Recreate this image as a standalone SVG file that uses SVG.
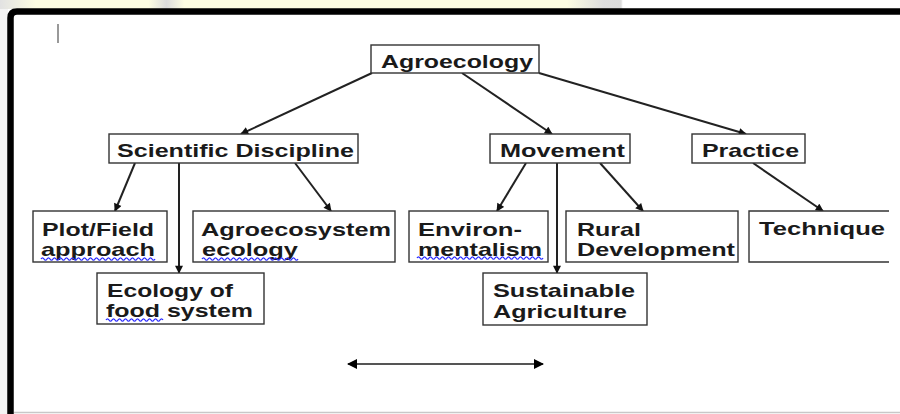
<svg xmlns="http://www.w3.org/2000/svg" width="900" height="414" viewBox="0 0 900 414">
<style>
.box{fill:#fff;stroke:#333;stroke-width:1.4}
.t{font-family:"Liberation Sans",Arial,sans-serif;font-weight:bold;font-size:18.5px;fill:#1a1a1a}
.c{stroke:#222;stroke-width:2;fill:none}
.sq{stroke:#2a2aff;stroke-width:1.3;fill:none}
</style>
<defs>
<marker id="ah" viewBox="0 0 10 10" refX="9" refY="5" markerWidth="9" markerHeight="8" markerUnits="userSpaceOnUse" orient="auto">
<path d="M0,0 L10,5 L0,10 z" fill="#111"/>
</marker>
<marker id="ah2" viewBox="0 0 10 10" refX="9" refY="5" markerWidth="12" markerHeight="10" markerUnits="userSpaceOnUse" orient="auto-start-reverse">
<path d="M0,0 L10,5 L0,10 z" fill="#000"/>
</marker>
<linearGradient id="strip" x1="0" y1="0" x2="1" y2="0">
<stop offset="0" stop-color="#e2e2e2"/>
<stop offset="0.04" stop-color="#fdfde2"/>
<stop offset="0.165" stop-color="#fdfde2"/>
<stop offset="0.185" stop-color="#dcdcdc"/>
<stop offset="0.205" stop-color="#fdfde2"/>
<stop offset="0.63" stop-color="#fdfde2"/>
<stop offset="0.67" stop-color="#dedede"/>
<stop offset="0.69" stop-color="#dcdcdc"/>
<stop offset="0.692" stop-color="#ffffff"/>
<stop offset="1" stop-color="#ffffff"/>
</linearGradient>
</defs>
<!-- background -->
<rect x="0" y="0" width="900" height="414" fill="#fff"/>
<rect x="0" y="0" width="900" height="9" fill="url(#strip)"/>
<rect x="0" y="9" width="8" height="405" fill="#f4f4f4"/>
<path d="M10.5,414 V18 Q10.5,11.5 17,11.5 H900" fill="none" stroke="#000" stroke-width="6.5"/>
<line x1="14" y1="412.5" x2="900" y2="412.5" stroke="#c8c8c8" stroke-width="1.5"/>
<line x1="58" y1="24" x2="58" y2="43" stroke="#555" stroke-width="1.2"/>

<g id="connectors">
<line class="c" x1="372" y1="73" x2="241" y2="134" marker-end="url(#ah)"/>
<line class="c" x1="462" y1="73" x2="552" y2="134" marker-end="url(#ah)"/>
<line class="c" x1="539" y1="73" x2="746" y2="134" marker-end="url(#ah)"/>
<line class="c" x1="135" y1="163" x2="115" y2="211" marker-end="url(#ah)"/>
<line class="c" x1="179" y1="163" x2="179" y2="273" marker-end="url(#ah)"/>
<line class="c" x1="295" y1="163" x2="331" y2="211" marker-end="url(#ah)"/>
<line class="c" x1="526" y1="163" x2="497" y2="211" marker-end="url(#ah)"/>
<line class="c" x1="557" y1="163" x2="557" y2="273" marker-end="url(#ah)"/>
<line class="c" x1="600" y1="163" x2="643" y2="211" marker-end="url(#ah)"/>
<line class="c" x1="753" y1="163" x2="823" y2="211" marker-end="url(#ah)"/>
<line x1="348" y1="364" x2="543" y2="364" stroke="#555" stroke-width="2" marker-start="url(#ah2)" marker-end="url(#ah2)"/>
</g>

<g id="agroecology">
<rect class="box" x="371" y="45" width="168" height="28"/>
<text class="t" x="381" y="68" textLength="152" lengthAdjust="spacingAndGlyphs">Agroecology</text>
</g>
<g id="scientific-discipline">
<rect class="box" x="109" y="134" width="249" height="29"/>
<text class="t" x="117" y="157" textLength="237" lengthAdjust="spacingAndGlyphs">Scientific Discipline</text>
</g>
<g id="movement">
<rect class="box" x="490" y="134" width="140" height="29"/>
<text class="t" x="500" y="157" textLength="125" lengthAdjust="spacingAndGlyphs">Movement</text>
</g>
<g id="practice">
<rect class="box" x="692" y="134" width="113" height="29"/>
<text class="t" x="702" y="157" textLength="97" lengthAdjust="spacingAndGlyphs">Practice</text>
</g>
<g id="plot-field">
<rect class="box" x="33" y="211" width="134" height="51"/>
<text class="t" x="42" y="236" textLength="112" lengthAdjust="spacingAndGlyphs">Plot/Field</text>
<text class="t" x="41" y="256" textLength="114" lengthAdjust="spacingAndGlyphs">approach</text>
<path class="sq" d="M41,259 q1.5,-2.4 3,0 t3,0 t3,0 t3,0 t3,0 t3,0 t3,0 t3,0 t3,0 t3,0 t3,0 t3,0 t3,0 t3,0 t3,0 t3,0 t3,0 t3,0 t3,0 t3,0 t3,0 t3,0 t3,0 t3,0 t3,0 t3,0 t3,0 t3,0 t3,0 t3,0 t3,0 t3,0 t3,0 t3,0 t3,0 t3,0 t3,0 t3,0"/>
</g>
<g id="agroecosystem-ecology">
<rect class="box" x="193" y="211" width="202" height="51"/>
<text class="t" x="201" y="236" textLength="190" lengthAdjust="spacingAndGlyphs">Agroecosystem</text>
<text class="t" x="202" y="256" textLength="96" lengthAdjust="spacingAndGlyphs">ecology</text>
<path class="sq" d="M202,259 q1.5,-2.4 3,0 t3,0 t3,0 t3,0 t3,0 t3,0 t3,0 t3,0 t3,0 t3,0 t3,0 t3,0 t3,0 t3,0 t3,0 t3,0 t3,0 t3,0 t3,0 t3,0 t3,0 t3,0 t3,0 t3,0 t3,0 t3,0 t3,0 t3,0 t3,0 t3,0 t3,0 t3,0"/>
</g>
<g id="environmentalism">
<rect class="box" x="409" y="211" width="139" height="51"/>
<text class="t" x="418" y="236" textLength="104" lengthAdjust="spacingAndGlyphs">Environ-</text>
<text class="t" x="418" y="256" textLength="124" lengthAdjust="spacingAndGlyphs">mentalism</text>
<path class="sq" d="M417,258 q1.5,-2.4 3,0 t3,0 t3,0 t3,0 t3,0 t3,0 t3,0 t3,0 t3,0 t3,0 t3,0 t3,0 t3,0 t3,0 t3,0 t3,0 t3,0 t3,0 t3,0 t3,0 t3,0 t3,0 t3,0 t3,0 t3,0 t3,0 t3,0 t3,0 t3,0 t3,0 t3,0 t3,0 t3,0 t3,0 t3,0 t3,0 t3,0 t3,0 t3,0 t3,0 t3,0 t3,0"/>
</g>
<g id="rural-development">
<rect class="box" x="566" y="211" width="172" height="51"/>
<text class="t" x="577" y="236" textLength="64" lengthAdjust="spacingAndGlyphs">Rural</text>
<text class="t" x="577" y="256" textLength="158" lengthAdjust="spacingAndGlyphs">Development</text>
</g>
<g id="technique">
<path d="M889,211 H749 V262 H889" fill="#fff" stroke="#333" stroke-width="1.4"/>
<text class="t" x="759" y="235" textLength="126" lengthAdjust="spacingAndGlyphs">Technique</text>
</g>
<g id="ecology-of-food-system">
<rect class="box" x="97" y="273" width="167" height="51"/>
<text class="t" x="107" y="297" textLength="126" lengthAdjust="spacingAndGlyphs">Ecology of</text>
<text class="t" x="106" y="317" textLength="147" lengthAdjust="spacingAndGlyphs">food system</text>
<path class="sq" d="M106,320 q1.5,-2.4 3,0 t3,0 t3,0 t3,0 t3,0 t3,0 t3,0 t3,0 t3,0 t3,0 t3,0 t3,0 t3,0 t3,0 t3,0 t3,0 t3,0 t3,0 t3,0"/>
</g>
<g id="sustainable-agriculture">
<rect class="box" x="483" y="273" width="164" height="52"/>
<text class="t" x="493" y="297" textLength="142" lengthAdjust="spacingAndGlyphs">Sustainable</text>
<text class="t" x="493" y="318" textLength="134" lengthAdjust="spacingAndGlyphs">Agriculture</text>
</g>
</svg>
